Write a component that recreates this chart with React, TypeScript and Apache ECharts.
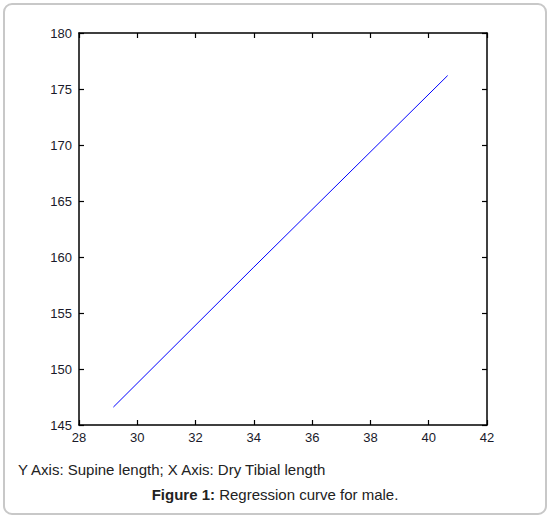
import React, { useEffect, useRef } from "react";
import * as echarts from "echarts";

const xData: number[] = [29.18, 34.0, 40.65];
const yData: number[] = [146.6, 159.1, 176.2];
const xTicks = { min: 28, max: 42, interval: 2 };
const yTicks = { min: 145, max: 180, interval: 5 };
const noteText = "Y Axis: Supine length; X Axis: Dry Tibial length";
const captionBold = "Figure 1:";
const captionRest = " Regression curve for male.";

export default function App() {
  const ref = useRef<HTMLDivElement>(null);
  useEffect(() => {
    if (!ref.current) return;
    const chart = echarts.init(ref.current, null, { renderer: "svg" });
    const font = "Liberation Sans, Arial, sans-serif";
    const axisLine = { show: true, onZero: false, lineStyle: { color: "#000", width: 1.5 } };
    const axisTick = { show: true, inside: true, length: 5, lineStyle: { color: "#000", width: 1.2 } };
    chart.setOption({
      animation: false,
      backgroundColor: "#fff",
      grid: { left: 79, top: 33, right: 65, bottom: 93, containLabel: false },
      xAxis: [
        {
          type: "value", ...xTicks, position: "bottom",
          axisLine, axisTick, splitLine: { show: false },
          axisLabel: { color: "#1a1a2a", fontSize: 13, fontFamily: font, margin: 6 },
        },
        {
          type: "value", ...xTicks, position: "top",
          axisLine, axisTick, splitLine: { show: false }, axisLabel: { show: false },
        },
      ],
      yAxis: [
        {
          type: "value", ...yTicks, position: "left",
          axisLine, axisTick, splitLine: { show: false },
          axisLabel: { color: "#1a1a2a", fontSize: 13, fontFamily: font, margin: 7 },
        },
        {
          type: "value", ...yTicks, position: "right",
          axisLine, axisTick, splitLine: { show: false }, axisLabel: { show: false },
        },
      ],
      series: [
        {
          type: "line",
          data: xData.map((x, i) => [x, yData[i]]),
          showSymbol: false,
          lineStyle: { color: "#0000ff", width: 1 },
          xAxisIndex: 0, yAxisIndex: 0,
        },
      ],
      graphic: [
        {
          type: "rect",
          shape: { x: 4, y: 4, width: 542, height: 510, r: 8 },
          style: { fill: "none", stroke: "#c8c8c8", lineWidth: 2 },
          silent: true,
        },
        {
          type: "text",
          x: 18, y: 469,
          style: {
            text: noteText, fill: "#222", font: `15px ${font}`,
            textVerticalAlign: "middle",
          },
        },
        {
          type: "text",
          x: 275, y: 494,
          style: {
            text: `{b|${captionBold}}{r|${captionRest}}`,
            textAlign: "center", textVerticalAlign: "middle",
            rich: {
              b: { fontWeight: "bold", fontSize: 15, fontFamily: font, fill: "#222" },
              r: { fontSize: 15, fontFamily: font, fill: "#222" },
            },
          },
        },
      ],
    });
    return () => chart.dispose();
  }, []);
  return (
    <div
      ref={ref}
      style={{ position: "fixed", left: 0, top: 0, width: 552, height: 518 }}
    />
  );
}
